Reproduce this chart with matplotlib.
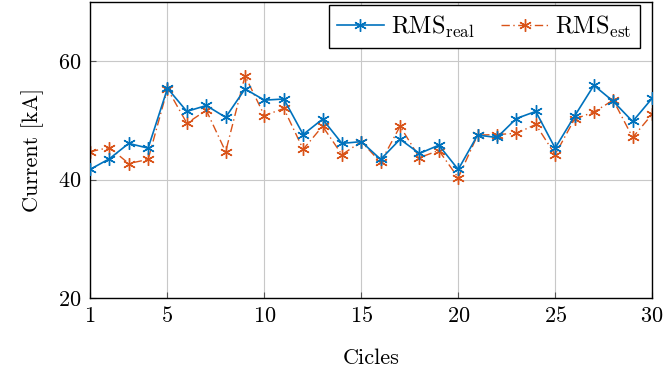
import matplotlib
matplotlib.use("Agg")
import matplotlib.pyplot as plt

plt.rcParams['font.family'] = ['cmr10', 'DejaVu Serif']
plt.rcParams['mathtext.fontset'] = 'cm'
plt.rcParams['axes.formatter.use_mathtext'] = True

cycles = list(range(1, 31))
rms_real = [41.7, 43.5, 46.1, 45.3, 55.4, 51.5, 52.5, 50.5, 55.3, 53.4,
            53.6, 47.6, 50.2, 46.1, 46.4, 43.4, 46.8, 44.4, 45.8, 41.7,
            47.5, 47.1, 50.3, 51.5, 45.3, 50.7, 55.9, 53.2, 49.8, 53.7]
rms_est = [44.7, 45.4, 42.7, 43.4, 55.3, 49.5, 51.7, 44.7, 57.5, 50.8,
           52.0, 45.1, 49.0, 44.2, 46.4, 42.9, 49.0, 43.7, 44.9, 40.3,
           47.5, 47.6, 47.8, 49.3, 44.2, 50.2, 51.4, 53.4, 47.1, 51.0]
xticks = [1, 5, 10, 15, 20, 25, 30]
yticks = [20, 40, 60]

fig = plt.figure(figsize=(6.65, 3.72), dpi=100)
ax = fig.add_axes([0.1353, 0.199, 0.8452, 0.796])

ast = (6, 2, 0)
ax.plot(cycles, rms_real, color='#0072BD', lw=1.2, marker=ast, ms=9, mew=1.0,
        label=r'RMS$_{\mathrm{real}}$', zorder=3)
ax.plot(cycles, rms_est, color='#D95319', lw=1.0, dashes=(6, 2.5, 1, 2.5), marker=ast, ms=9, mew=1.0,
        label=r'RMS$_{\mathrm{est}}$', zorder=2)

ax.set_xlim(1, 30)
ax.set_ylim(20, 70)
ax.set_xticks(xticks)
ax.set_yticks(yticks)
ax.grid(True, color='#c8c8c8', lw=0.8)
ax.set_axisbelow(True)
ax.tick_params(direction='in', labelsize=16, length=4, pad=6, colors='#555555', labelcolor='black')
for s in ax.spines.values():
    s.set_color('black')
    s.set_linewidth(1.0)

ax.set_xlabel('Cicles', fontsize=16, labelpad=16)
ax.set_ylabel('Current [kA]', fontsize=16, labelpad=10)

leg = ax.legend(loc='upper right', bbox_to_anchor=(1 - 12 / 562, 1 - 3 / 296), ncol=2, fontsize=17.5,
                frameon=True, fancybox=False, edgecolor='black', framealpha=1,
                borderpad=0.35, handlelength=1.9, handletextpad=0.3, columnspacing=1.1,
                borderaxespad=0.0)
leg.get_frame().set_linewidth(1.0)

fig.savefig('out.png', dpi=100)
